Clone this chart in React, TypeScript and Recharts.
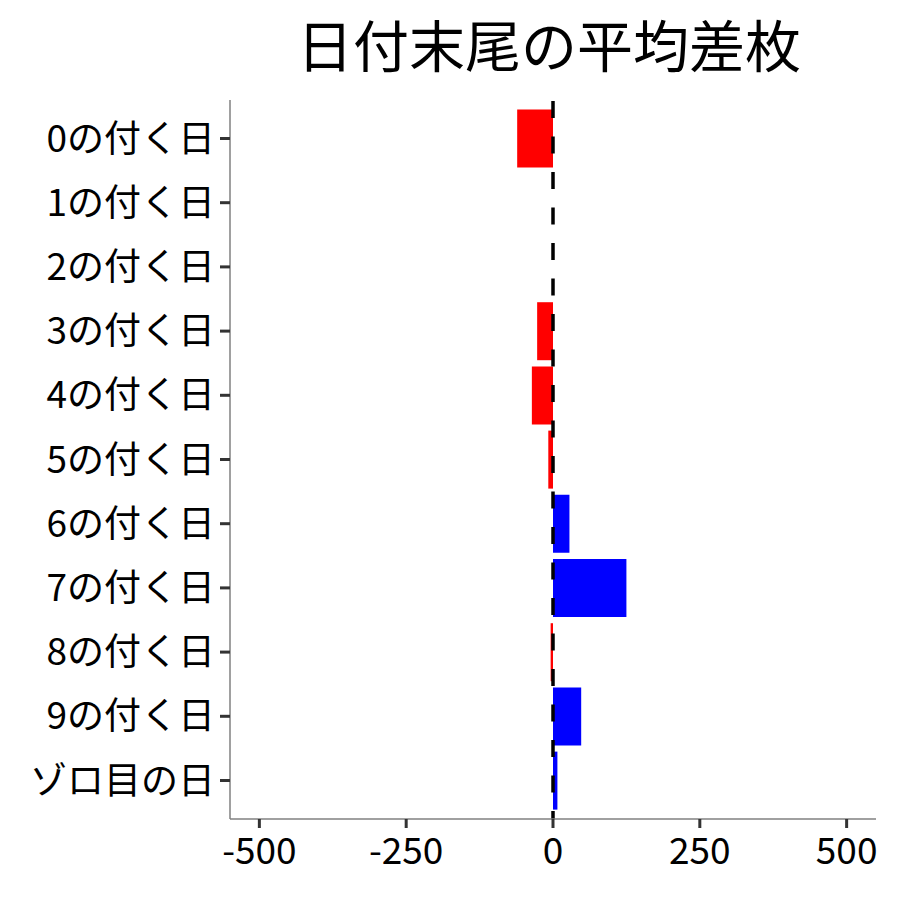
import React from "react";
import { BarChart, Bar, XAxis, YAxis, ReferenceLine, Cell } from "recharts";

const categories = [
  "0の付く日",
  "1の付く日",
  "2の付く日",
  "3の付く日",
  "4の付く日",
  "5の付く日",
  "6の付く日",
  "7の付く日",
  "8の付く日",
  "9の付く日",
  "ゾロ目の日",
];
const values = [-61, 0, 0, -27, -36, -8, 28, 125, -4, 48, 7.5];
const xTicks = [-500, -250, 0, 250, 500];
const title = "日付末尾の平均差枚";

const data = categories.map((name, i) => ({ name, value: values[i] }));

const FONT = '"Noto Sans CJK JP", "Noto Sans", sans-serif';

export default function App() {
  return (
    <div style={{ position: "absolute", left: 0, top: 0, width: 900, height: 900, background: "#fff", fontFamily: FONT }}>
      <div
        style={{
          position: "absolute",
          left: 222,
          width: 654,
          top: 6,
          textAlign: "center",
          fontSize: 56,
          lineHeight: "74px",
          color: "#000",
        }}
      >
        {title}
      </div>
      <BarChart
        width={900}
        height={900}
        data={data}
        layout="vertical"
        margin={{ top: 100, right: 24, bottom: 0, left: 0 }}
        barCategoryGap="5%"
      >
        <XAxis
          type="number"
          domain={[-550, 550]}
          ticks={xTicks}
          allowDataOverflow
          height={81}
          axisLine={{ stroke: "#808080", strokeWidth: 1.5 }}
          tickLine={{ stroke: "#333", strokeWidth: 3 }}
          tickSize={9}
          tickMargin={10}
          tick={{ fill: "#000", fontSize: 37, fontFamily: FONT }}
        />
        <YAxis
          type="category"
          dataKey="name"
          width={230}
          padding={{ top: 6.4, bottom: 6.4 }}
          axisLine={{ stroke: "#808080", strokeWidth: 1.5 }}
          tickLine={{ stroke: "#333", strokeWidth: 3 }}
          tickSize={10}
          tickMargin={5}
          tick={{ fill: "#000", fontSize: 37, fontFamily: FONT }}
        />
        <Bar dataKey="value" isAnimationActive={false}>
          {data.map((d, i) => (
            <Cell key={i} fill={d.value < 0 ? "#FF0000" : "#0000FF"} />
          ))}
        </Bar>
        <ReferenceLine
          x={0}
          stroke="#000"
          strokeWidth={3.5}
          strokeDasharray="17 18.5"
          strokeDashoffset={9}
        />
      </BarChart>
    </div>
  );
}
